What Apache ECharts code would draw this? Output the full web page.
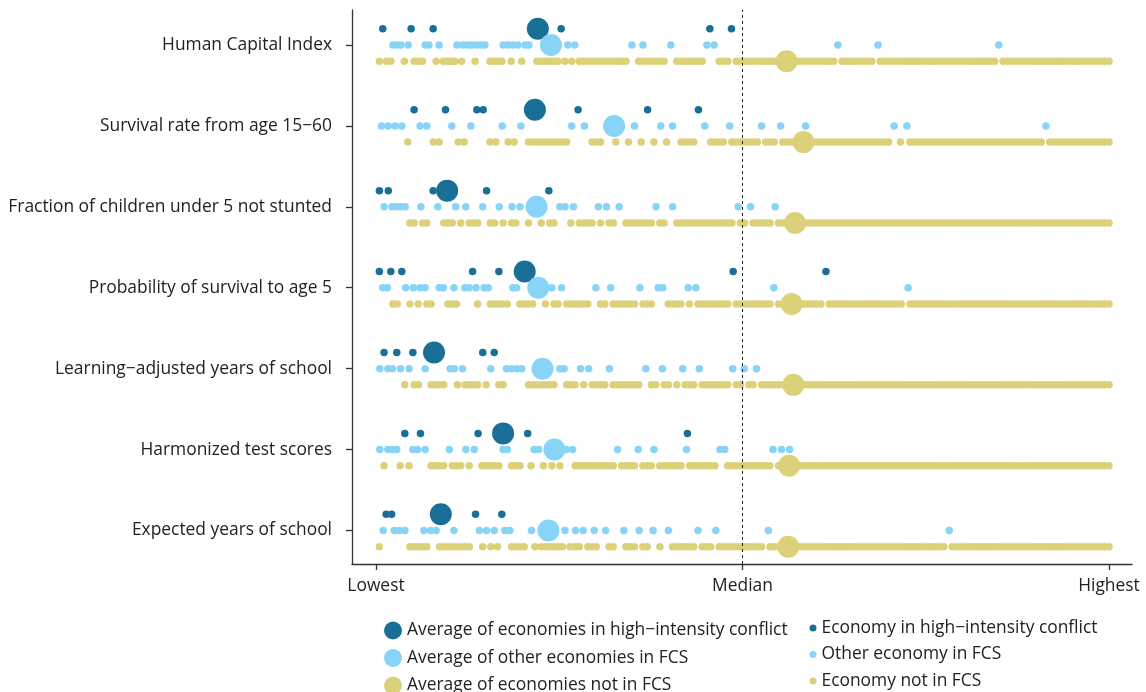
<!DOCTYPE html>
<html>
<head>
<meta charset="utf-8">
<script src="https://cdn.jsdelivr.net/npm/echarts@6/dist/echarts.min.js"></script>
<style>
html,body{margin:0;padding:0;background:#fff;}
#chart{width:1146px;height:692px;}
</style>
</head>
<body>
<div id="chart"></div>
<script>
// ---------- DATA (positions on the rank scale: 1 = lowest, 174 = highest) ----------
const categories = [
  'Human Capital Index',
  'Survival rate from age 15\u221260',
  'Fraction of children under 5 not stunted',
  'Probability of survival to age 5',
  'Learning\u2212adjusted years of school',
  'Harmonized test scores',
  'Expected years of school'
];
const xTickValues = [1, 87.5, 174];
const xTickLabels = ['Lowest', 'Median', 'Highest'];

// averages, one per category (top to bottom)
const avgHigh  = [39.2, 38.5, 17.8, 36.1, 14.7, 31.0, 16.3];
const avgOther = [42.3, 57.2, 38.9, 39.3, 40.3, 43.1, 41.7];
const avgNot   = [97.9, 101.9, 99.9, 99.1, 99.5, 98.5, 98.3];

// Human Capital Index
const hciHigh  = [2.6, 9.3, 14.5, 44.7, 79.8, 84.9];
const hciOther = [5.0, 6.0, 6.9, 8.6, 12.6, 13.5, 15.9, 20.1, 21.5, 22.7, 23.7, 24.8, 25.8, 26.7, 31.0, 32.2, 33.3, 34.5, 36.2, 37.1, 46.3, 47.9, 61.4, 64.0, 70.6, 79.1, 80.8, 110.0, 119.5, 148.0];
const hciNot   = [1.8, 3.5, 4.5, 7.7, 10, 11, 12, 15.2, 16.9, 17.9, 18.7, 19.6, 21.2, 24.4, 27.9, 28.8, 29.8, 30.7, 32.9, 35.4,
  39, 40, 41, 42, 43, 44, 45.6, 47.2, 49, 50, 51, 52, 53, 54, 55, 56, 57, 58, 59, 60, 63, 64, 65, 66, 67, 68, 69,
  72, 73, 74, 75, 76, 77, 78, 82, 83, 84,
  86, 87, 88, 89, 90, 91, 92, 93, 94, 95, 96, 97, 98, 99, 100, 101, 102, 103, 104, 105, 106, 107, 108, 109,
  111, 112, 113, 114, 115, 116, 117, 118,
  120, 121, 122, 123, 124, 125, 126, 127, 128, 129, 130, 131, 132, 133, 134, 135, 136, 137, 138, 139, 140, 141, 142, 143, 144, 145, 146, 147,
  149, 150, 151, 152, 153, 154, 155, 156, 157, 158, 159, 160, 161, 162, 163, 164, 165, 166, 167, 168, 169, 170, 171, 172, 173, 174];

// Survival rate from age 15-60
const survHigh  = [10.0, 17.4, 24.8, 26.3, 48.7, 65.1, 77.1];
const survOther = [2.3, 3.9, 5.5, 7.1, 11.4, 13.0, 18.9, 23.4, 30.8, 35.2, 47.2, 50.2, 62.0, 68.2, 71.0, 78.6, 84.5, 92.0, 96.5, 102.4, 123.3, 126.3, 159.1];
const survNot   = [8.5, 14.5, 15.9, 20.4, 21.8, 27.9, 29.3, 32.2, 33.6, 37, 38, 39, 40, 41, 42, 43, 44, 45, 46,
  52, 53, 54, 57.6, 60.6, 63.6, 66.6, 69.6, 73, 74, 75, 76, 80, 81, 82, 83, 85, 86, 87, 88, 89, 90, 91, 93, 94, 95,
  97, 98, 99, 100, 101, 103, 104, 105, 106, 107, 108, 109, 110, 111, 112, 113, 114, 115, 116, 117, 118, 119, 120, 121, 122,
  124.8, 127, 128, 129, 130, 131, 132, 133, 134, 135, 136, 137, 138, 139, 140, 141, 142, 143, 144, 145, 146, 147, 148, 149, 150, 151, 152, 153, 154, 155, 156, 157, 158,
  160, 161, 162, 163, 164, 165, 166, 167, 168, 169, 170, 171, 172, 173, 174];

// Fraction of children under 5 not stunted
const stuntHigh  = [1.8, 3.9, 14.5, 27.1, 41.8];
const stuntOther = [2.9, 4.8, 5.9, 6.9, 7.9, 11.6, 15.6, 19.8, 22.2, 26.2, 30.1, 33.1, 35.0, 44.4, 45.6, 47.6, 53.5, 55.4, 58.4, 67.1, 71.0, 86.5, 89.4, 95.2];
const stuntNot   = [9, 10, 12, 13, 17, 18, 19, 21, 23, 24, 25, 28, 29, 31, 33, 34, 37, 40, 42, 43, 47, 49, 50, 51, 52, 54, 56, 57,
  60, 61, 62, 63, 64, 65, 66, 68, 69, 72, 73, 74, 75, 76, 77, 78, 79, 80, 81, 82, 83, 84, 85, 87, 88, 90, 91, 92, 93, 94,
  96, 97, 98, 99, 100, 101, 102, 103, 104, 105, 106, 107, 108, 109, 110, 111, 112, 113, 114, 115, 116, 117, 118, 119, 120,
  121, 122, 123, 124, 125, 126, 127, 128, 129, 130, 131, 132, 133, 134, 135, 136, 137, 138, 139, 140, 141, 142, 143, 144, 145,
  146, 147, 148, 149, 150, 151, 152, 153, 154, 155, 156, 157, 158, 159, 160, 161, 162, 163, 164, 165, 166, 167, 168, 169, 170, 171, 172, 173, 174];

// Probability of survival to age 5
const u5High  = [1.8, 4.5, 7.1, 23.8, 30.0, 85.3, 107.2];
const u5Other = [2.6, 3.7, 8.0, 9.8, 11.4, 12.6, 15.9, 16.9, 19.4, 22.0, 23.0, 24.6, 26.5, 27.5, 33.3, 34.2, 42.5, 44.8, 52.9, 56.4, 63.3, 67.6, 68.7, 74.7, 76.5, 94.9, 126.6];
const u5Not   = [5, 6, 9, 11, 13, 14, 18, 19, 20, 25, 28, 29, 30, 31, 32, 35, 36, 37, 38, 41, 43, 44, 46, 47, 48, 49, 50, 51, 54, 55,
  57, 58, 59, 60, 61, 62, 64, 65, 66, 70, 71, 72, 73, 75, 77, 78, 79, 80, 81, 82, 83, 84, 86, 87, 88, 89, 90, 91, 92, 93, 94,
  96, 97, 98, 99, 100, 101, 102, 103, 104, 105, 106, 108, 109, 110, 111, 112, 113, 114, 115, 116, 117, 118, 119, 120, 121, 122, 123, 124, 125,
  127, 128, 129, 130, 131, 132, 133, 134, 135, 136, 137, 138, 139, 140, 141, 142, 143, 144, 145, 146, 147, 148, 149, 150,
  151, 152, 153, 154, 155, 156, 157, 158, 159, 160, 161, 162, 163, 164, 165, 166, 167, 168, 169, 170, 171, 172, 173, 174];

// Learning-adjusted years of school
const laysHigh  = [2.9, 5.9, 9.7, 26.2, 28.9];
const laysOther = [1.9, 3.8, 4.9, 6.8, 8.8, 12.6, 18.5, 19.5, 21.4, 28.1, 31.8, 33.0, 34.2, 35.4, 44.4, 45.4, 49.3, 51.2, 56.1, 64.7, 68.6, 73.4, 77.3, 85.2, 87.9, 90.8];
const laysNot   = [7.8, 10, 11, 14, 15, 16, 17, 20.2, 22, 23, 24, 25, 27, 30, 31, 37, 38, 39, 40, 41, 42, 43, 46, 47, 48, 50,
  52, 53, 54, 55, 57, 58, 59, 60, 61, 62, 63, 66, 67, 69, 70, 72, 74, 75, 76, 78, 79, 80, 81, 82, 83, 84, 86, 87, 89, 90,
  92, 93, 94, 95, 96, 97, 98, 99, 100, 101, 102, 103, 104, 105, 106, 107, 108, 109, 110, 111, 112, 113, 114, 115, 116, 117, 118, 119, 120,
  121, 122, 123, 124, 125, 126, 127, 128, 129, 130, 131, 132, 133, 134, 135, 136, 137, 138, 139, 140, 141, 142, 143, 144, 145,
  146, 147, 148, 149, 150, 151, 152, 153, 154, 155, 156, 157, 158, 159, 160, 161, 162, 163, 164, 165, 166, 167, 168, 169, 170, 171, 172, 173, 174];

// Harmonized test scores
const htsHigh  = [7.8, 11.5, 25.1, 36.8, 74.5];
const htsOther = [1.9, 3.8, 4.9, 5.9, 9.7, 10.8, 12.6, 18.3, 22.2, 24.2, 31.0, 32.0, 38.3, 39.4, 45.9, 47.4, 58.0, 62.9, 66.6, 74.3, 82.2, 83.3, 94.7, 96.7, 98.6];
const htsNot   = [2.9, 6.7, 8.8, 14, 15, 16, 17, 19, 20, 21, 23, 26, 27, 28, 29, 30, 33, 34, 35, 37.6, 40.5, 42.5, 44.4,
  48, 49, 50, 51, 52, 53, 54, 55, 56, 57, 59, 60, 61, 62, 64, 65, 66, 68, 69, 70, 71, 72, 73, 75, 76, 77, 78, 79, 80, 81,
  84, 85, 86, 87, 88, 89, 90, 91, 92, 93, 94, 96, 98, 100, 101, 102, 103, 104, 105, 106, 107, 108, 109, 110,
  111, 112, 113, 114, 115, 116, 117, 118, 119, 120, 121, 122, 123, 124, 125, 126, 127, 128, 129, 130, 131, 132, 133, 134, 135,
  136, 137, 138, 139, 140, 141, 142, 143, 144, 145, 146, 147, 148, 149, 150, 151, 152, 153, 154, 155, 156, 157, 158, 159, 160,
  161, 162, 163, 164, 165, 166, 167, 168, 169, 170, 171, 172, 173, 174];

// Expected years of school
const eysHigh  = [3.4, 4.7, 24.5, 30.7];
const eysOther = [2.7, 5.3, 6.5, 7.8, 12.3, 13.9, 15.2, 19.4, 25.4, 27.1, 28.9, 31.4, 32.6, 37.7, 45.6, 48.1, 49.9, 52.5, 55.2, 59.5, 63.1, 66.4, 70.0, 77.0, 81.2, 93.6, 136.3];
const eysNot   = [1.8, 9, 10, 11, 12, 13, 16, 17, 18, 19, 20, 21, 22, 23, 26.2, 28.1, 29.7, 33, 34, 35, 36, 38.5, 40, 41, 42, 43, 44, 45,
  46.8, 48, 49, 51, 52, 53, 56, 57, 60, 61, 62, 64, 65, 68, 71, 72, 73, 74, 75, 76, 78, 79, 80,
  82, 83, 84, 85, 86, 87, 88, 89, 90, 91, 92, 94, 95, 96, 97, 98, 99, 100, 101, 102, 103, 104, 105, 106, 107, 108, 109, 110,
  111, 112, 113, 114, 115, 116, 117, 118, 119, 120, 121, 122, 123, 124, 125, 126, 127, 128, 129, 130, 131, 132, 133, 134, 135,
  137, 138, 139, 140, 141, 142, 143, 144, 145, 146, 147, 148, 149, 150, 151, 152, 153, 154, 155, 156, 157, 158, 159, 160,
  161, 162, 163, 164, 165, 166, 167, 168, 169, 170, 171, 172, 173, 174];

const highRows  = [hciHigh, survHigh, stuntHigh, u5High, laysHigh, htsHigh, eysHigh];
const otherRows = [hciOther, survOther, stuntOther, u5Other, laysOther, htsOther, eysOther];
const notRows   = [hciNot, survNot, stuntNot, u5Not, laysNot, htsNot, eysNot];

// ---------- CHART ----------
const FONT = '"Open Sans", Roboto, sans-serif';
const FS = 17.4;
const C_HIGH = '#1a6f96', C_OTHER = '#88d4f6', C_NOT = '#dcd078';
const N = categories.length;
const OFF = 0.2;

function rowsToData(rows, off) {
  const out = [];
  rows.forEach((arr, i) => arr.forEach(v => out.push([v, (N - 1 - i) + off])));
  return out;
}
function avgToData(arr, off) {
  return arr.map((v, i) => [v, (N - 1 - i) + off]);
}

const names = {
  avgHigh: 'Average of economies in high\u2212intensity conflict',
  avgOther: 'Average of other economies in FCS',
  avgNot: 'Average of economies not in FCS',
  high: 'Economy in high\u2212intensity conflict',
  other: 'Other economy in FCS',
  not: 'Economy not in FCS'
};

const chart = echarts.init(document.getElementById('chart'), null, {renderer: 'canvas'});
const yTicks = categories.map((c, i) => i);

chart.setOption({
  animation: false,
  backgroundColor: '#fff',
  textStyle: {fontFamily: FONT},
  grid: {left: 352, right: 14, top: 10, bottom: 128, containLabel: false},
  xAxis: {
    type: 'value', min: -4.66, max: 179.43,
    axisLine: {show: true, onZero: false, lineStyle: {color: '#333', width: 1.3}},
    axisTick: {show: true, customValues: xTickValues, length: 6, lineStyle: {color: '#333', width: 1.3}},
    axisLabel: {
      customValues: xTickValues, margin: 14, fontSize: FS, color: '#222', fontFamily: FONT,
      formatter: v => { const k = xTickValues.findIndex(t => Math.abs(t - v) < 1e-6); return k >= 0 ? xTickLabels[k] : ''; }
    },
    splitLine: {show: false}
  },
  yAxis: {
    type: 'value', min: -0.414, max: 6.4325,
    axisLine: {show: true, onZero: false, lineStyle: {color: '#333', width: 1.3}},
    axisTick: {show: true, customValues: yTicks, length: 6, lineStyle: {color: '#333', width: 1.3}},
    axisLabel: {
      customValues: yTicks, margin: 20, fontSize: FS, color: '#222', fontFamily: FONT,
      formatter: v => categories[N - 1 - Math.round(v)]
    },
    splitLine: {show: false}
  },
  legend: [
    {
      orient: 'vertical', left: 384, top: 620.5, height: 100, itemWidth: 18, itemHeight: 18, itemGap: 7.5,
      icon: 'circle', selectedMode: false, padding: 0,
      textStyle: {fontSize: FS, lineHeight: 20, color: '#222', fontFamily: FONT},
      data: [names.avgHigh, names.avgOther, names.avgNot]
    },
    {
      orient: 'vertical', left: 809.5, top: 618, height: 100, itemWidth: 7, itemHeight: 7, itemGap: 6.5,
      icon: 'circle', selectedMode: false, padding: 0,
      textStyle: {fontSize: FS, lineHeight: 20, color: '#222', fontFamily: FONT},
      data: [names.high, names.other, names.not]
    }
  ],
  series: [
    {
      name: names.not, type: 'scatter', symbolSize: 7.5, itemStyle: {color: C_NOT, opacity: 1},
      data: rowsToData(notRows, -OFF), silent: true, z: 2,
      markLine: {
        silent: true, symbol: ['none', 'none'], label: {show: false},
        lineStyle: {color: '#222', width: 1, type: [3, 3]},
        data: [{xAxis: xTickValues[1]}]
      }
    },
    {name: names.other, type: 'scatter', symbolSize: 7.5, itemStyle: {color: C_OTHER, opacity: 1}, data: rowsToData(otherRows, 0), silent: true, z: 2},
    {name: names.high, type: 'scatter', symbolSize: 7.5, itemStyle: {color: C_HIGH, opacity: 1}, data: rowsToData(highRows, OFF), silent: true, z: 2},
    {name: names.avgHigh, type: 'scatter', symbolSize: 22, itemStyle: {color: C_HIGH, opacity: 1}, data: avgToData(avgHigh, OFF), silent: true, z: 3},
    {name: names.avgOther, type: 'scatter', symbolSize: 22, itemStyle: {color: C_OTHER, opacity: 1}, data: avgToData(avgOther, 0), silent: true, z: 4},
    {name: names.avgNot, type: 'scatter', symbolSize: 22, itemStyle: {color: C_NOT, opacity: 1}, data: avgToData(avgNot, -OFF), silent: true, z: 5}
  ]
});
</script>
</body>
</html>
